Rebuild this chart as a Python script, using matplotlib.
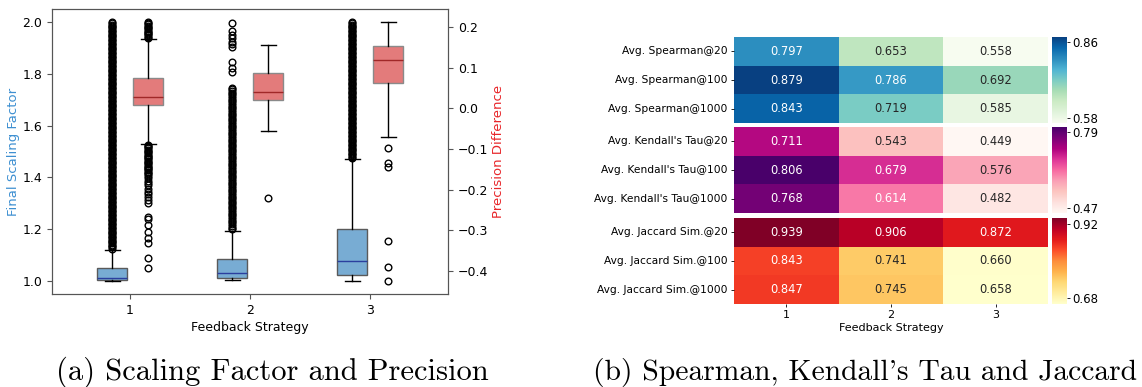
import matplotlib
matplotlib.use("Agg")
import matplotlib.pyplot as plt
import seaborn as sns
import numpy as np

strategies = [1, 2, 3]

# final scaling factor (left axis), box statistics per strategy
sf_whislo = [1.000, 1.004, 1.000]
sf_q1 = [1.003, 1.012, 1.022]
sf_med = [1.013, 1.032, 1.076]
sf_q3 = [1.049, 1.085, 1.202]
sf_whishi = [1.121, 1.195, 1.471]
# outliers (the dense runs are solid bands there)
sf_fliers1 = [1.125, 1.130, 1.135, 1.140, 1.145, 1.150, 1.155, 1.160, 1.165, 1.170,
              1.175, 1.180, 1.185, 1.190, 1.195, 1.200, 1.205, 1.210, 1.215, 1.220,
              1.225, 1.230, 1.235, 1.240, 1.245, 1.250, 1.255, 1.260, 1.265, 1.270,
              1.275, 1.280, 1.285, 1.290, 1.295, 1.300, 1.305, 1.310, 1.315, 1.320,
              1.325, 1.330, 1.335, 1.340, 1.345, 1.350, 1.355, 1.360, 1.365, 1.370,
              1.375, 1.380, 1.385, 1.390, 1.395, 1.400, 1.405, 1.410, 1.415, 1.420,
              1.425, 1.430, 1.435, 1.440, 1.445, 1.450, 1.455, 1.460, 1.465, 1.470,
              1.475, 1.480, 1.485, 1.490, 1.495, 1.500, 1.505, 1.510, 1.515, 1.520,
              1.525, 1.530, 1.535, 1.540, 1.545, 1.550, 1.555, 1.560, 1.565, 1.570,
              1.575, 1.580, 1.585, 1.590, 1.595, 1.600, 1.605, 1.610, 1.615, 1.620,
              1.625, 1.630, 1.635, 1.640, 1.645, 1.650, 1.655, 1.660, 1.665, 1.670,
              1.675, 1.680, 1.685, 1.690, 1.695, 1.700, 1.705, 1.710, 1.715, 1.720,
              1.725, 1.730, 1.735, 1.740, 1.745, 1.750, 1.755, 1.760, 1.765, 1.770,
              1.775, 1.780, 1.785, 1.790, 1.795, 1.800, 1.805, 1.810, 1.815, 1.820,
              1.825, 1.830, 1.835, 1.840, 1.845, 1.850, 1.855, 1.860, 1.865, 1.870,
              1.875, 1.880, 1.885, 1.890, 1.895, 1.900, 1.905, 1.910, 1.915, 1.920,
              1.925, 1.930, 1.935, 1.940, 1.945, 1.950, 1.955, 1.960, 1.965, 1.970,
              1.975, 1.980, 1.985, 1.990, 1.995, 2.000]
sf_fliers2 = [1.200, 1.206, 1.213, 1.220, 1.226, 1.233, 1.240, 1.246, 1.253, 1.260,
              1.266, 1.273, 1.280, 1.286, 1.293, 1.300, 1.306, 1.313, 1.320, 1.326,
              1.333, 1.340, 1.346, 1.353, 1.360, 1.366, 1.373, 1.380, 1.386, 1.393,
              1.400, 1.406, 1.413, 1.420, 1.426, 1.433, 1.440, 1.446, 1.453, 1.460,
              1.466, 1.473, 1.480, 1.486, 1.493, 1.500, 1.506, 1.513, 1.520, 1.526,
              1.533, 1.540, 1.546, 1.553, 1.560, 1.566, 1.573, 1.580, 1.586, 1.593,
              1.600, 1.606, 1.613, 1.620, 1.626, 1.633, 1.640, 1.646, 1.653, 1.660,
              1.666, 1.673, 1.680, 1.686, 1.693, 1.700, 1.706, 1.713, 1.720, 1.726,
              1.733, 1.740, 1.746,
              1.806, 1.823, 1.845, 1.902, 1.915, 1.922, 1.937, 1.951, 1.964, 1.995]
sf_fliers3 = [1.475, 1.480, 1.485, 1.490, 1.495, 1.500, 1.505, 1.510, 1.515, 1.520,
              1.525, 1.530, 1.535, 1.540, 1.545, 1.550, 1.555, 1.560, 1.565, 1.570,
              1.575, 1.580, 1.585, 1.590, 1.595, 1.600, 1.605, 1.610, 1.615, 1.620,
              1.625, 1.630, 1.635, 1.640, 1.645, 1.650, 1.655, 1.660, 1.665, 1.670,
              1.675, 1.680, 1.685, 1.690, 1.695, 1.700, 1.705, 1.710, 1.715, 1.720,
              1.725, 1.730, 1.735, 1.740, 1.745, 1.750, 1.755, 1.760, 1.765, 1.770,
              1.775, 1.780, 1.785, 1.790, 1.795, 1.800, 1.805, 1.810, 1.815, 1.820,
              1.825, 1.830, 1.835, 1.840, 1.845, 1.850, 1.855, 1.860, 1.865, 1.870,
              1.875, 1.880, 1.885, 1.890, 1.895, 1.900, 1.905, 1.910, 1.915, 1.920,
              1.925, 1.930, 1.935, 1.940, 1.945, 1.950, 1.955, 1.960, 1.965, 1.970,
              1.975, 1.980, 1.985, 1.990, 1.995, 2.000]

# precision difference (right axis)
pd_whislo = [-0.088, -0.055, -0.070]
pd_q1 = [0.009, 0.019, 0.061]
pd_med = [0.028, 0.041, 0.118]
pd_q3 = [0.074, 0.086, 0.153]
pd_whishi = [0.171, 0.155, 0.211]
pd_fliers1 = [0.173, 0.176, 0.179, 0.182, 0.185, 0.188, 0.191, 0.194, 0.197, 0.200,
              0.203, 0.206, 0.209, 0.212,
              -0.090, -0.093, -0.096, -0.099, -0.102, -0.105, -0.108, -0.111, -0.114,
              -0.117, -0.120, -0.123, -0.126, -0.129, -0.132, -0.135, -0.138, -0.141,
              -0.144, -0.147, -0.150, -0.153, -0.156, -0.159, -0.162,
              -0.167, -0.172, -0.178, -0.185, -0.19, -0.198, -0.205, -0.21, -0.218,
              -0.225, -0.232, -0.268, -0.272, -0.288, -0.304, -0.32, -0.332, -0.369,
              -0.394]
pd_fliers2 = [-0.222]
pd_fliers3 = [-0.097, -0.136, -0.145, -0.326, -0.391, -0.425]

row_spearman = ['Avg. Spearman@20', 'Avg. Spearman@100', 'Avg. Spearman@1000']
row_kendall = ["Avg. Kendall's Tau@20", "Avg. Kendall's Tau@100", "Avg. Kendall's Tau@1000"]
row_jaccard = ['Avg. Jaccard Sim.@20', 'Avg. Jaccard Sim.@100', 'Avg. Jaccard Sim.@1000']
spearman = [[0.797, 0.653, 0.558], [0.879, 0.786, 0.692], [0.843, 0.719, 0.585]]
kendall = [[0.711, 0.543, 0.449], [0.806, 0.679, 0.576], [0.768, 0.614, 0.482]]
jaccard = [[0.939, 0.906, 0.872], [0.843, 0.741, 0.660], [0.847, 0.745, 0.658]]

W, H = 1142, 387
fig = plt.figure(figsize=(W / 100, H / 100), dpi=100)


def box(px, py, pw, ph):
    # pixel box -> figure fraction
    return [px / W, 1 - (py + ph) / H, pw / W, ph / H]


# ---------- (a) box plots ----------
ax = fig.add_axes(box(52, 9, 396, 285))
ax2 = ax.twinx()

sf_fliers = [sf_fliers1, sf_fliers2, sf_fliers3]
pd_fliers = [pd_fliers1, pd_fliers2, pd_fliers3]
sf_stats, pd_stats = [], []
for i in range(3):
    sf_stats.append(dict(whislo=sf_whislo[i], q1=sf_q1[i], med=sf_med[i], q3=sf_q3[i],
                         whishi=sf_whishi[i], fliers=sf_fliers[i]))
    pd_stats.append(dict(whislo=pd_whislo[i], q1=pd_q1[i], med=pd_med[i], q3=pd_q3[i],
                         whishi=pd_whishi[i], fliers=pd_fliers[i]))

flier = dict(marker='o', markersize=4.8, markerfacecolor='none',
             markeredgecolor='black', markeredgewidth=1.0)
pos = np.array(strategies)
ax.bxp(sf_stats, positions=pos - 0.15, widths=0.25, patch_artist=True,
       boxprops=dict(facecolor='#78acd3', edgecolor='#5a5a5a', linewidth=1),
       medianprops=dict(color='#2b3f9e', linewidth=1),
       whiskerprops=dict(color='black', linewidth=1),
       capprops=dict(color='black', linewidth=1), flierprops=flier)
ax2.bxp(pd_stats, positions=pos + 0.15, widths=0.25, patch_artist=True,
        boxprops=dict(facecolor='#e37b7b', edgecolor='#8a8a8a', linewidth=1),
        medianprops=dict(color='#a02828', linewidth=1),
        whiskerprops=dict(color='black', linewidth=1),
        capprops=dict(color='black', linewidth=1), flierprops=flier)

ax.set_xlim(0.35, 3.65)
ax.set_ylim(0.95, 2.05)
ax2.set_ylim(-0.457, 0.244)
ax.set_xticks(pos)
ax.set_xticklabels([str(s) for s in strategies])
ax.set_yticks([1.0, 1.2, 1.4, 1.6, 1.8, 2.0])
ax2.set_yticks([-0.4, -0.3, -0.2, -0.1, 0.0, 0.1, 0.2])
ax.set_xlabel('Feedback Strategy', fontsize=9, labelpad=3)
ax.set_ylabel('Final Scaling Factor', color='#3d8fd1', fontsize=9.5, labelpad=2)
ax2.set_ylabel('Precision Difference', color='#e8262a', fontsize=9.5, labelpad=3)
for a in (ax, ax2):
    a.tick_params(labelsize=9, color='#555555')
    for s in a.spines.values():
        s.set_color('#555555')

# ---------- (b) heat maps ----------
blocks = [(spearman, row_spearman, 'GnBu', 37), (kendall, row_kendall, 'RdPu', 127),
          (jaccard, row_jaccard, 'YlOrRd', 218)]
for k, (vals, rows, cmap, top) in enumerate(blocks):
    hax = fig.add_axes(box(734, top, 314, 86))
    cax = fig.add_axes(box(1052, top, 15, 86))
    arr = np.array(vals)
    sns.heatmap(arr, ax=hax, cbar_ax=cax, cmap=cmap, annot=True, fmt='.3f',
                annot_kws={'size': 8.3}, xticklabels=strategies, yticklabels=rows)
    hax.set_yticklabels(rows, rotation=0, fontsize=7.7)
    hax.tick_params(axis='y', length=2.5, width=0.6, pad=2)
    if k < 2:
        hax.set_xticks([])
    else:
        hax.set_xticklabels([str(s) for s in strategies], fontsize=8)
        hax.tick_params(axis='x', length=2.5, width=0.6, pad=2)
        hax.set_xlabel('Feedback Strategy', fontsize=8, labelpad=2)
    lo, hi = arr.min(), arr.max()
    cax.set_yticks([lo + 0.02, hi - 0.02])
    cax.set_yticklabels(['%.2f' % (lo + 0.02), '%.2f' % (hi - 0.02)])
    cax.tick_params(labelsize=8.5, length=2.5, width=0.6, pad=1.5)

# ---------- captions ----------
fig.text(272 / W, 1 - 380 / H, '(a) Scaling Factor and Precision', family='cmr10',
         fontsize=22, ha='center', va='baseline')
fig.text(593 / W, 1 - 380 / H, "(b) Spearman, Kendall's Tau and Jaccard", family='cmr10',
         fontsize=21.3, ha='left', va='baseline')

fig.savefig('out.png', dpi=100)
